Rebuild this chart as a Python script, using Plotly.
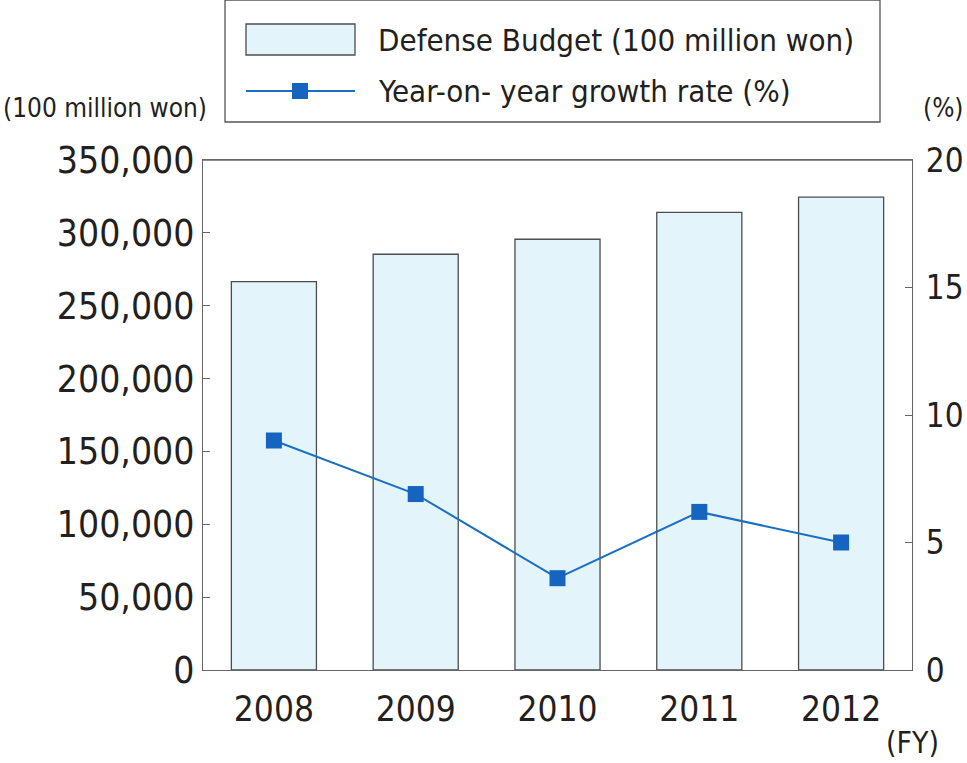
import plotly.graph_objects as go

# data
years = ["2008", "2009", "2010", "2011", "2012"]
budget = [266490, 285326, 295627, 314031, 324500]  # 100 million won
growth = [9.0, 6.9, 3.6, 6.2, 5.0]  # %

left_ticks = [0, 50000, 100000, 150000, 200000, 250000, 300000, 350000]
left_labels = ["0", "50,000", "100,000", "150,000", "200,000", "250,000", "300,000", "350,000"]
right_ticks = [0, 5, 10, 15, 20]

FONT = "DejaVu Sans Condensed, Liberation Sans Narrow, Roboto Condensed, Roboto, sans-serif"
TXT = "#231f20"
BAR_FILL = "#e3f4fb"
BAR_LINE = "#4d4d4d"
LINE_COL = "#1a6fc4"
MARK_COL = "#1565c0"

W, H = 967, 763
L, R, T, B = 203, 55, 160, 93
pw, ph = W - L - R, H - T - B

def px_x(x):  # pixel -> paper
    return (x - L) / pw

def px_y(y):
    return (H - B - y) / ph

fig = go.Figure()
fig.add_trace(go.Bar(
    x=years, y=budget, width=0.6,
    marker=dict(color=BAR_FILL, line=dict(color=BAR_LINE, width=1.3)),
    name="Defense Budget (100 million won)", showlegend=False,
))
fig.add_trace(go.Scatter(
    x=years, y=growth, yaxis="y2", mode="lines+markers",
    line=dict(color=LINE_COL, width=2),
    marker=dict(symbol="square", size=16, color=MARK_COL),
    name="Year-on- year growth rate (%)", showlegend=False,
))

axis_common = dict(showgrid=False, zeroline=False, showline=True, linecolor="#666666",
                   linewidth=1.3, ticks="inside", ticklen=7, tickcolor="#666666",
                   automargin=False)

fig.update_layout(
    width=W, height=H,
    margin=dict(l=L, r=R, t=T, b=B),
    plot_bgcolor="white", paper_bgcolor="white",
    font=dict(family=FONT, color=TXT),
    xaxis=dict(showgrid=False, showline=True, linecolor="#666666", linewidth=1.3,
               mirror=True, ticks="", range=[-0.5, 4.5], ticklabelstandoff=8,
               automargin=False,
               tickfont=dict(family=FONT, size=35, color=TXT)),
    yaxis=dict(range=[0, 350000], tickvals=left_ticks, ticktext=left_labels,
               mirror=False, tickfont=dict(family=FONT, size=37, color=TXT),
               **axis_common),
    yaxis2=dict(range=[0, 20], tickvals=right_ticks, overlaying="y", side="right",
                ticklabelstandoff=6, tickfont=dict(family=FONT, size=33, color=TXT),
                **axis_common),
    bargap=0.4,
    showlegend=False,
)

# top border of plot
fig.add_shape(type="line", xref="paper", yref="paper", x0=0, x1=1, y0=1, y1=1,
              line=dict(color="#666666", width=1.3))

# axis unit labels
fig.add_annotation(text="(100 million won)", xref="paper", yref="paper",
                   x=px_x(209), y=px_y(108), xanchor="right", yanchor="middle",
                   showarrow=False, font=dict(family=FONT, size=26, color=TXT))
fig.add_annotation(text="(%)", xref="paper", yref="paper",
                   x=px_x(966), y=px_y(108), xanchor="right", yanchor="middle",
                   showarrow=False, font=dict(family=FONT, size=26, color=TXT))
fig.add_annotation(text="(FY)", xref="paper", yref="paper",
                   x=px_x(941), y=px_y(742), xanchor="right", yanchor="middle",
                   showarrow=False, font=dict(family=FONT, size=30, color=TXT))

# custom legend box
fig.add_shape(type="rect", xref="paper", yref="paper",
              x0=px_x(225), x1=px_x(880), y0=px_y(122), y1=px_y(0),
              line=dict(color="#555555", width=1.3), fillcolor="white")
fig.add_shape(type="rect", xref="paper", yref="paper",
              x0=px_x(246), x1=px_x(355), y0=px_y(55), y1=px_y(24),
              line=dict(color=BAR_LINE, width=1.3), fillcolor=BAR_FILL)
fig.add_shape(type="line", xref="paper", yref="paper",
              x0=px_x(246), x1=px_x(355), y0=px_y(91), y1=px_y(91),
              line=dict(color=LINE_COL, width=2))
fig.add_shape(type="rect", xref="paper", yref="paper",
              x0=px_x(292), x1=px_x(308), y0=px_y(99), y1=px_y(83),
              line=dict(color=MARK_COL, width=0), fillcolor=MARK_COL)
fig.add_annotation(text="Defense Budget (100 million won)", xref="paper", yref="paper",
                   x=px_x(376), y=px_y(40), xanchor="left", yanchor="middle",
                   showarrow=False, font=dict(family=FONT, size=31, color=TXT))
fig.add_annotation(text="Year-on- year growth rate (%)", xref="paper", yref="paper",
                   x=px_x(376), y=px_y(91), xanchor="left", yanchor="middle",
                   showarrow=False, font=dict(family=FONT, size=31, color=TXT))

# the page adds a default body margin; drop it so the figure fills the window
fig.write_html("out.html", config={"displayModeBar": False},
               post_script="document.body.style.margin='0';")
